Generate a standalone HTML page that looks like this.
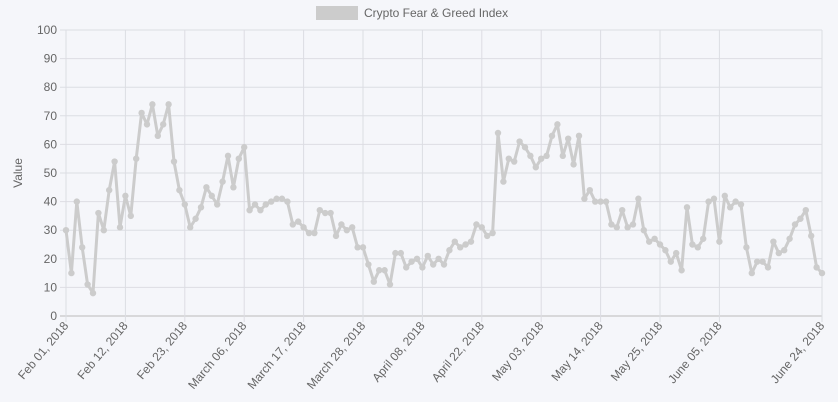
<!DOCTYPE html>
<html><head><meta charset="utf-8"><style>
html,body{margin:0;padding:0;background:#f5f6fa;}
svg{display:block;font-family:"Liberation Sans",Arial,sans-serif;}
</style></head><body>
<svg id="chart" width="838" height="402" viewBox="0 0 838 402" xmlns="http://www.w3.org/2000/svg">
<rect x="0" y="0" width="838" height="402" fill="#f5f6fa"/>
<g>
<rect x="316" y="6" width="42" height="14" fill="#cccccc"/>
<text x="364" y="17" font-size="12" fill="#666">Crypto Fear &amp; Greed Index</text>
</g>
<text transform="translate(22,173) rotate(-90)" text-anchor="middle" font-size="12" fill="#666">Value</text>
<g id="grid"></g><g id="axes"></g><g id="series"></g>
</svg>
<script>
const values = [30,15,40,24,11,8,36,30,44,54,31,42,35,55,71,67,74,63,67,74,54,44,39,
31,34,38,45,42,39,47,56,45,55,59,
37,39,37,39,40,41,41,40,32,33,31,29,29,37,36,36,28,32,30,31,24,24,18,12,16,16,11,22,22,17,19,20,17,21,18,20,18,23,
26,24,25,26,32,31,28,29,64,47,55,54,61,59,56,52,55,56,63,67,56,62,53,63,41,44,40,40,40,32,31,37,31,32,41,
30,26,27,25,23,19,22,16,38,25,24,27,40,41,26,42,38,40,39,24,15,19,19,17,26,22,23,27,32,34,37,28,17,15];
const tickIndex = [0,11,22,33,44,55,66,77,88,99,110,121,140];
const tickLabels = ["Feb 01, 2018","Feb 12, 2018","Feb 23, 2018","March 06, 2018","March 17, 2018","March 28, 2018","April 08, 2018","April 22, 2018","May 03, 2018","May 14, 2018","May 25, 2018","June 05, 2018","June 24, 2018"];
const yTicks = [0,10,20,30,40,50,60,70,80,90,100];

const NS="http://www.w3.org/2000/svg";
const L=66,R=822,T=30,B=316;
const xS=i=>L+(R-L)*i/(values.length-1);
const yS=v=>B-(B-T)*v/100;
function mk(tag,attrs,parent){const e=document.createElementNS(NS,tag);for(const k in attrs)e.setAttribute(k,attrs[k]);parent.appendChild(e);return e;}
const grid=document.getElementById('grid'),axes=document.getElementById('axes'),series=document.getElementById('series');
yTicks.forEach(v=>{
  const y=yS(v);
  const ln=mk('line',{x1:L-6,x2:R,y1:y,y2:y,stroke:v===0?'#bbb':'#dcdde3','stroke-width':1},grid);
  
  
  const t=mk('text',{x:L-9,y:y+4,'text-anchor':'end','font-size':12,fill:'#666'},axes);
  t.textContent=v;
  
  
});
tickIndex.forEach((idx,k)=>{
  const x=xS(idx);
  const ln=mk('line',{x1:x,x2:x,y1:T,y2:B+6,stroke:'#dcdde3','stroke-width':1},grid);
  
  
  const t=mk('text',{transform:`translate(${x+3},${B+10}) rotate(-50)`,'text-anchor':'end','font-size':12,fill:'#666'},axes);
  t.textContent=tickLabels[k];
  
  
});
const d=values.map((v,i)=>(i?'L':'M')+xS(i).toFixed(1)+' '+yS(v).toFixed(1)).join(' ');
const path=mk('path',{d:d,fill:'none',stroke:'#cccccc','stroke-width':3,'stroke-linejoin':'round'},series);


values.forEach((v,i)=>{
  const c=mk('circle',{cx:xS(i),cy:yS(v),r:3.2,fill:'#cccccc'},series);
  
  
});
</script>
</body></html>
